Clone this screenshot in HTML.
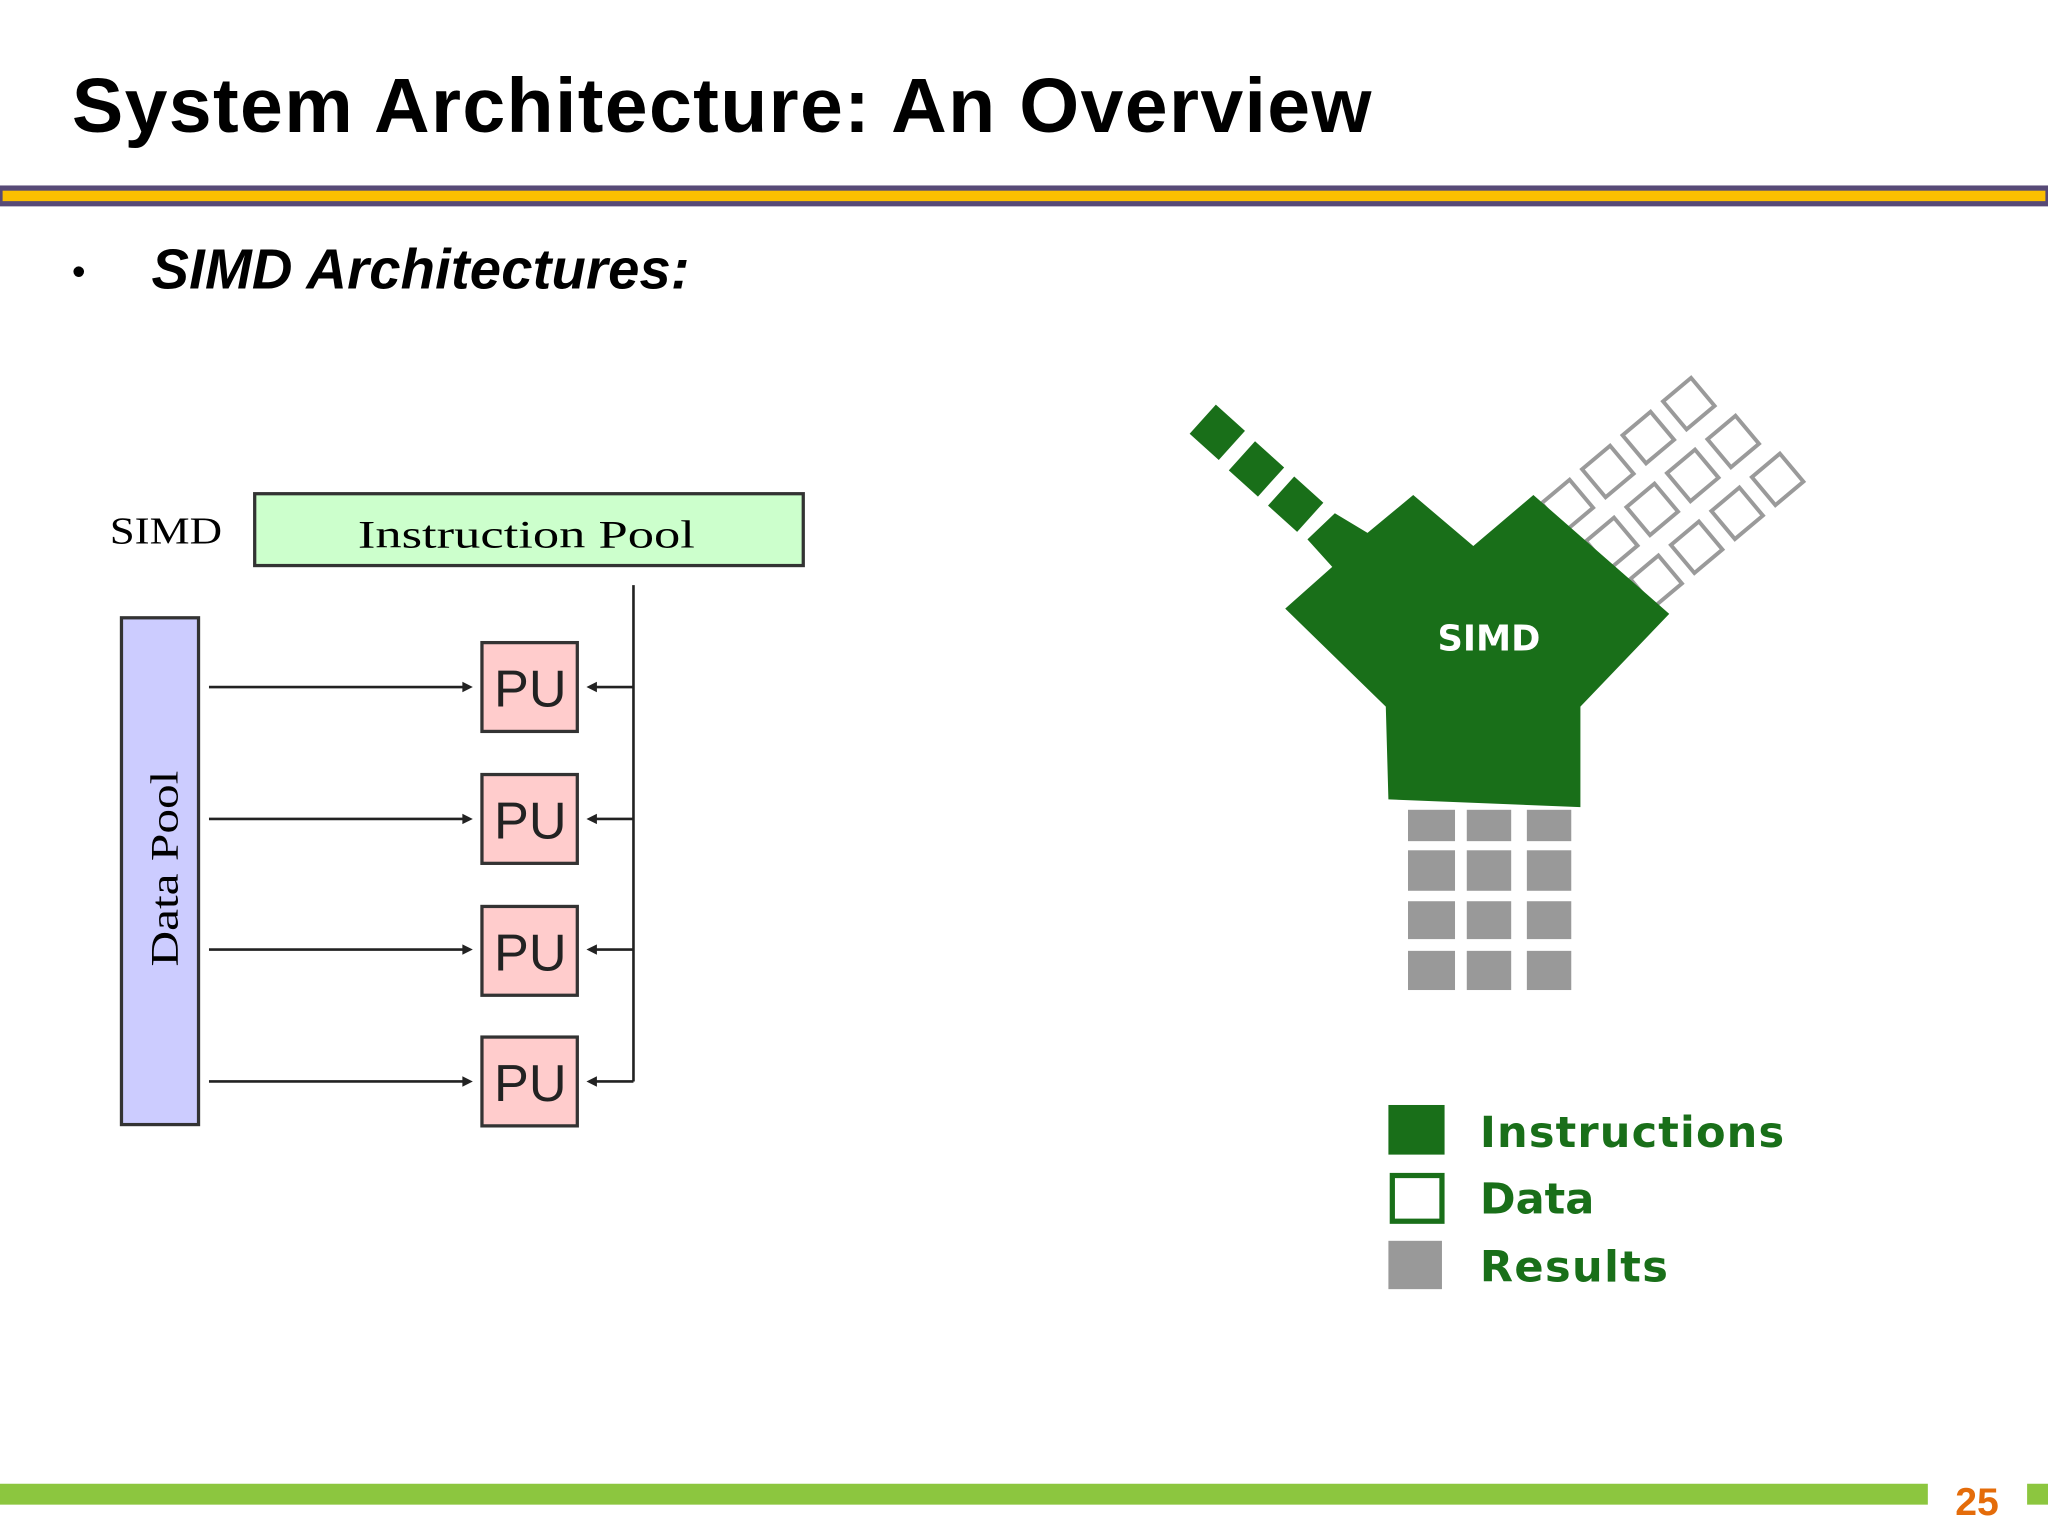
<!DOCTYPE html>
<html><head><meta charset="utf-8"><style>html,body{margin:0;padding:0;background:#fff;width:2048px;height:1536px;overflow:hidden}</style></head>
<body>
<svg width="2048" height="1536" viewBox="0 0 1568 1176" xmlns="http://www.w3.org/2000/svg">
<rect width="1568" height="1176" fill="#fff"/>
<text x="55" y="101" font-family="Liberation Sans, sans-serif" font-weight="bold" font-size="59" textLength="995" fill="#000">System Architecture: An Overview</text>
<rect x="0" y="142" width="1568" height="16" fill="#574a77"/>
<rect x="2" y="146" width="1564" height="8" fill="#fbbf00"/>
<text x="55" y="218" font-family="Liberation Sans, sans-serif" font-size="30">•</text>
<text x="116" y="221" font-family="Liberation Sans, sans-serif" font-weight="bold" font-style="italic" font-size="43" textLength="412">SIMD Architectures:</text>

<text x="84" y="416" font-family="Liberation Serif, serif" font-size="29" textLength="86" lengthAdjust="spacingAndGlyphs">SIMD</text>
<rect x="195" y="378" width="420" height="55" fill="#ccffcc" stroke="#333" stroke-width="2.5"/>
<text x="274" y="419" font-family="Liberation Serif, serif" font-size="30" textLength="258" lengthAdjust="spacingAndGlyphs">Instruction Pool</text>
<rect x="93" y="473" width="59" height="388" fill="#ccccff" stroke="#333" stroke-width="2.5"/>
<text transform="translate(136,740) rotate(-90)" font-family="Liberation Serif, serif" font-size="30" textLength="150" lengthAdjust="spacingAndGlyphs">Data Pool</text>
<line x1="485" y1="448" x2="485" y2="828" stroke="#222" stroke-width="2"/>
<g>
<rect x="369" y="492" width="73" height="68" fill="#ffcccc" stroke="#333" stroke-width="2.5"/>
<rect x="369" y="593" width="73" height="68" fill="#ffcccc" stroke="#333" stroke-width="2.5"/>
<rect x="369" y="694" width="73" height="68" fill="#ffcccc" stroke="#333" stroke-width="2.5"/>
<rect x="369" y="794" width="73" height="68" fill="#ffcccc" stroke="#333" stroke-width="2.5"/>
<g font-family="Liberation Sans, sans-serif" font-size="40" fill="#222" text-anchor="middle">
<text x="406" y="541">PU</text><text x="406" y="642">PU</text><text x="406" y="743">PU</text><text x="406" y="843">PU</text>
</g>
<g stroke="#222" stroke-width="2">
<line x1="160" y1="526" x2="356" y2="526"/><line x1="160" y1="627" x2="356" y2="627"/><line x1="160" y1="727" x2="356" y2="727"/><line x1="160" y1="828" x2="356" y2="828"/>
<line x1="485" y1="526" x2="456" y2="526"/><line x1="485" y1="627" x2="456" y2="627"/><line x1="485" y1="727" x2="456" y2="727"/><line x1="485" y1="828" x2="456" y2="828"/>
</g>
<g fill="#222">
<path d="M362 526l-8-4v8z"/><path d="M362 627l-8-4v8z"/><path d="M362 727l-8-4v8z"/><path d="M362 828l-8-4v8z"/>
<path d="M449 526l8-4v8z"/><path d="M449 627l8-4v8z"/><path d="M449 727l8-4v8z"/><path d="M449 828l8-4v8z"/>
</g>
</g>

<g fill="none" stroke="#9a9a9a" stroke-width="3">
<g transform="translate(1293,309) rotate(-40)"><rect x="-14" y="-14" width="28" height="28"/></g>
<g transform="translate(1327,338) rotate(-40)"><rect x="-14" y="-14" width="28" height="28"/></g>
<g transform="translate(1361,367) rotate(-40)"><rect x="-14" y="-14" width="28" height="28"/></g>
<g transform="translate(1262,335) rotate(-40)"><rect x="-14" y="-14" width="28" height="28"/></g>
<g transform="translate(1296,364) rotate(-40)"><rect x="-14" y="-14" width="28" height="28"/></g>
<g transform="translate(1330,393) rotate(-40)"><rect x="-14" y="-14" width="28" height="28"/></g>
<g transform="translate(1231,361) rotate(-40)"><rect x="-14" y="-14" width="28" height="28"/></g>
<g transform="translate(1265,390) rotate(-40)"><rect x="-14" y="-14" width="28" height="28"/></g>
<g transform="translate(1299,419) rotate(-40)"><rect x="-14" y="-14" width="28" height="28"/></g>
<g transform="translate(1200,387) rotate(-40)"><rect x="-14" y="-14" width="28" height="28"/></g>
<g transform="translate(1234,416) rotate(-40)"><rect x="-14" y="-14" width="28" height="28"/></g>
<g transform="translate(1268,445) rotate(-40)"><rect x="-14" y="-14" width="28" height="28"/></g>
</g>
<g fill="#196f19">
<g transform="translate(932,331) rotate(42)"><rect x="-15" y="-15" width="30" height="30"/></g>
<g transform="translate(962,359) rotate(42)"><rect x="-15" y="-15" width="30" height="30"/></g>
<g transform="translate(992,386) rotate(42)"><rect x="-15" y="-15" width="30" height="30"/></g>
<polygon points="984,466 1020,434 1001,413 1022,393 1047,408 1082,379 1128,418 1174,379 1278,470 1210,541 1210,618 1063,612 1061,541"/>
</g>
<text x="1140" y="498" text-anchor="middle" font-family="DejaVu Sans, sans-serif" font-weight="bold" font-size="27" fill="#fff">SIMD</text>
<g fill="#999">
<rect x="1078" y="620" width="36" height="24"/><rect x="1123" y="620" width="34" height="24"/><rect x="1169" y="620" width="34" height="24"/>
<rect x="1078" y="651" width="36" height="31"/><rect x="1123" y="651" width="34" height="31"/><rect x="1169" y="651" width="34" height="31"/>
<rect x="1078" y="690" width="36" height="29"/><rect x="1123" y="690" width="34" height="29"/><rect x="1169" y="690" width="34" height="29"/>
<rect x="1078" y="728" width="36" height="30"/><rect x="1123" y="728" width="34" height="30"/><rect x="1169" y="728" width="34" height="30"/>
</g>
<rect x="1063" y="846" width="43" height="38" fill="#196f19"/>
<rect x="1066" y="900" width="38" height="35" fill="#fff" stroke="#196f19" stroke-width="4"/>
<rect x="1063" y="950" width="41" height="37" fill="#999"/>
<g font-family="DejaVu Sans, sans-serif" font-weight="bold" font-size="33" fill="#196f19">
<text x="1133" y="878" textLength="233">Instructions</text>
<text x="1133" y="929">Data</text>
<text x="1133" y="981" textLength="144">Results</text>
</g>

<rect x="0" y="1136" width="1476" height="16" fill="#8cc63f"/>
<rect x="1552" y="1136" width="16" height="16" fill="#8cc63f"/>
<text x="1497" y="1160" font-family="Liberation Sans, sans-serif" font-weight="bold" font-size="30" fill="#e46c0a">25</text>
</svg>
</body></html>
